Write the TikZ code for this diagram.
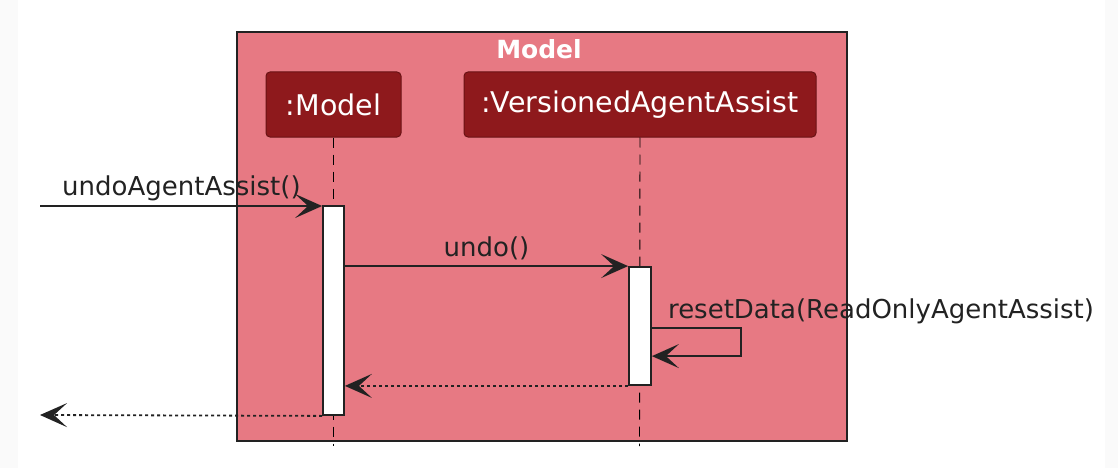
\documentclass[tikz,border=0pt]{standalone}
\usepackage{fontspec}
\setmainfont{DejaVu Sans}
\usepackage{xcolor}
\usetikzlibrary{arrows.meta,positioning,calc}
\definecolor{grppink}{HTML}{E77983}
\definecolor{partred}{HTML}{8E191C}
\definecolor{partedge}{HTML}{6A1214}
\definecolor{inkgray}{HTML}{222222}
\tikzset{
  grpbox/.style={draw=inkgray,line width=1.3pt,fill=grppink,inner sep=0pt},
  pbox/.style={draw=partedge,line width=1pt,fill=partred,rounded corners=4pt,
    text=white,font=\fontsize{28.5}{30}\selectfont,minimum height=65pt,inner sep=0pt},
  actbar/.style={draw=inkgray,line width=1.8pt,fill=white,inner sep=0pt},
  lifeline/.style={draw=black,line width=0.9pt,dash pattern=on 10pt off 7pt},
  msgarrow/.style={-{Stealth[length=27pt,width=24pt,inset=13pt]},line width=1.8pt,draw=inkgray},
  retarrow/.style={msgarrow,dash pattern=on 3pt off 3pt},
  msglbl/.style={font=\fontsize{26}{28}\selectfont,text=inkgray,inner sep=0pt},
}

\begin{document}
\begin{tikzpicture}[x=1pt,y=-1pt]
\useasboundingbox (0,0) rectangle (1118,468);
\fill[black!2] (0,0) rectangle (1118,468);
\fill[white] (18,0) rectangle (1105,468);
% group and participants
\node[grpbox,minimum width=610pt,minimum height=409pt] (grp) at (542,236.5) {};
\node[font=\bfseries\fontsize{25}{26}\selectfont,text=white,inner sep=0pt] (grptitle) at (539,49) {Model};
\node[pbox,minimum width=135pt] (pm) at (333.5,104.5) {:Model};
\node[pbox,minimum width=352pt] (pv) at (640,104.5) {:VersionedAgentAssist};
\coordinate (pmend) at (333.5,446);
\coordinate (pvend) at (639.5,446);
\draw[lifeline] (pm.south) -- (pmend);
\draw[lifeline] (pv.south) -- (pvend);
% activations
\node[actbar,minimum width=21pt,minimum height=209pt] (act1) at (333.5,310.5) {};
\node[actbar,minimum width=22pt,minimum height=118pt] (act2) at (640,326) {};
% messages
\coordinate (in) at (40,206);
\coordinate (out) at (40,415);
\draw[msgarrow] (in) -- (in -| act1.west);
\node[msglbl,anchor=base west] (lbl1) at ($(in)+(22,-11)$) {undoAgentAssist()};
\draw[msgarrow] (act1.east |- act2.north) -- (act2.north west);
\node[msglbl,anchor=base] (lbl2) at ($(act1.east |- act2.north)!0.5!(act2.north west)+(0,-10)$) {undo()};
\draw[msgarrow] ($(act2.north east)+(0,62)$) -- ++(89,0) -- ++(0,28) -- ++(-89,0);
\node[msglbl,anchor=base west] (lbl3) at ($(act2.north east)+(16,52)$) {resetData(ReadOnlyAgentAssist)};
\draw[retarrow] (act2.south west) -- (act1.east |- act2.south);
\draw[retarrow] (act1.south west) -- (out);
\end{tikzpicture}
\end{document}
